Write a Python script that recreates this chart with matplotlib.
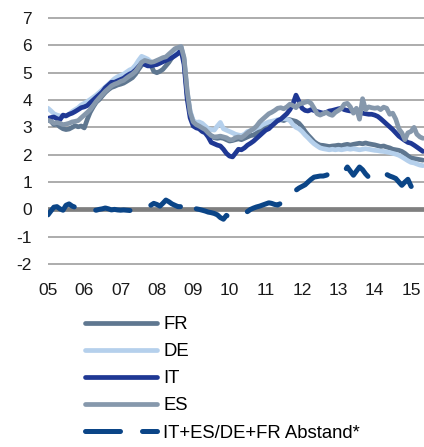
import pandas as pd
import matplotlib.pyplot as plt
import numpy as np

# monthly series, Jan 2005 .. May 2015 (values in %)
start_month = "2005-01-01"

fr = [3.28, 3.22, 3.10, 3.12, 3.02, 2.95, 2.92, 2.94, 3.00, 3.06, 3.02, 3.05,
      2.98, 3.30, 3.55, 3.75, 3.92, 4.02, 4.15, 4.28, 4.38, 4.46, 4.50, 4.55,
      4.58, 4.62, 4.68, 4.75, 4.82, 4.95, 5.12, 5.28, 5.38, 5.45, 5.30, 5.05,
      5.00, 5.05, 5.12, 5.25, 5.38, 5.55, 5.70, 5.82, 5.92, 5.45, 4.20, 3.50,
      3.20, 3.05, 3.00, 2.92, 2.85, 2.78, 2.68, 2.62, 2.60, 2.62, 2.60, 2.55,
      2.50, 2.52, 2.55, 2.58, 2.55, 2.60, 2.65, 2.70, 2.72, 2.80, 2.90, 3.00,
      3.08, 3.15, 3.20, 3.22, 3.25, 3.28, 3.25, 3.30, 3.28, 3.25, 3.22, 3.15,
      3.02, 2.85, 2.72, 2.60, 2.48, 2.40, 2.35, 2.34, 2.32, 2.30, 2.32, 2.33,
      2.35, 2.33, 2.36, 2.38, 2.35, 2.38, 2.40, 2.42, 2.40, 2.43, 2.40, 2.38,
      2.36, 2.33, 2.30, 2.32, 2.28, 2.25, 2.20, 2.18, 2.16, 2.12, 2.05, 1.96,
      1.88, 1.86, 1.84, 1.82, 1.80]

de = [3.70, 3.60, 3.50, 3.45, 3.42, 3.40, 3.42, 3.48, 3.58, 3.65, 3.72, 3.82,
      3.88, 3.95, 4.02, 4.10, 4.18, 4.28, 4.38, 4.48, 4.58, 4.68, 4.78, 4.85,
      4.90, 4.95, 5.02, 5.10, 5.15, 5.28, 5.45, 5.60, 5.55, 5.50, 5.40, 5.35,
      5.38, 5.40, 5.45, 5.50, 5.58, 5.65, 5.78, 5.88, 5.95, 5.50, 4.30, 3.60,
      3.25, 3.18, 3.20, 3.15, 3.05, 2.95, 2.92, 2.90, 3.05, 3.18, 2.95, 2.90,
      2.85, 2.80, 2.75, 2.72, 2.70, 2.75, 2.85, 2.88, 2.92, 2.98, 3.02, 3.10,
      3.15, 3.20, 3.22, 3.25, 3.28, 3.30, 3.32, 3.30, 3.25, 3.10, 3.00, 2.95,
      2.85, 2.72, 2.62, 2.50, 2.40, 2.32, 2.25, 2.22, 2.20, 2.18, 2.20, 2.18,
      2.20, 2.18, 2.20, 2.22, 2.20, 2.22, 2.20, 2.18, 2.20, 2.22, 2.20, 2.18,
      2.16, 2.15, 2.13, 2.12, 2.10, 2.08, 2.05, 2.02, 1.98, 1.92, 1.85, 1.78,
      1.72, 1.70, 1.66, 1.62, 1.60]

it = [3.33, 3.36, 3.38, 3.32, 3.28, 3.45, 3.42, 3.48, 3.52, 3.58, 3.65, 3.72,
      3.75, 3.80, 3.90, 4.00, 4.10, 4.20, 4.30, 4.45, 4.55, 4.65, 4.65, 4.70,
      4.75, 4.80, 4.88, 4.95, 5.00, 5.10, 5.22, 5.35, 5.30, 5.25, 5.25, 5.28,
      5.30, 5.35, 5.40, 5.45, 5.50, 5.55, 5.62, 5.70, 5.82, 5.30, 4.05, 3.35,
      3.05, 2.98, 2.95, 2.85, 2.80, 2.65, 2.45, 2.40, 2.35, 2.32, 2.20, 2.05,
      1.95, 1.92, 2.05, 2.20, 2.18, 2.25, 2.35, 2.42, 2.50, 2.60, 2.70, 2.80,
      2.90, 2.95, 3.05, 3.15, 3.25, 3.30, 3.40, 3.50, 3.65, 3.85, 4.18, 3.95,
      3.70, 3.62, 3.60, 3.65, 3.62, 3.58, 3.55, 3.52, 3.55, 3.60, 3.62, 3.65,
      3.68, 3.70, 3.65, 3.62, 3.60, 3.62, 3.58, 3.55, 3.52, 3.50, 3.48, 3.48,
      3.45, 3.40, 3.32, 3.22, 3.12, 3.02, 2.92, 2.80, 2.68, 2.60, 2.52, 2.45,
      2.42, 2.35, 2.28, 2.20, 2.12]

es = [3.26, 3.22, 3.15, 3.18, 3.15, 3.10, 3.12, 3.15, 3.20, 3.22, 3.25, 3.35,
      3.45, 3.55, 3.65, 3.80, 3.95, 4.08, 4.20, 4.32, 4.42, 4.52, 4.58, 4.62,
      4.68, 4.72, 4.80, 4.88, 4.95, 5.05, 5.20, 5.38, 5.45, 5.42, 5.38, 5.40,
      5.45, 5.50, 5.55, 5.58, 5.68, 5.78, 5.88, 5.92, 5.96, 5.55, 4.35, 3.55,
      3.20, 3.10, 3.05, 2.98, 2.92, 2.80, 2.70, 2.65, 2.66, 2.68, 2.65, 2.62,
      2.55, 2.55, 2.62, 2.65, 2.62, 2.70, 2.80, 2.88, 2.95, 3.05, 3.20, 3.30,
      3.40, 3.50, 3.55, 3.62, 3.70, 3.72, 3.68, 3.75, 3.85, 3.80, 3.72, 3.85,
      3.88, 3.92, 3.95, 3.88, 3.70, 3.50, 3.45, 3.50, 3.55, 3.48, 3.44, 3.55,
      3.62, 3.70, 3.85, 3.88, 3.75, 3.52, 3.70, 3.30, 4.05, 3.65, 3.75, 3.72,
      3.70, 3.72, 3.65, 3.74, 3.70, 3.48, 3.52, 3.30, 2.95, 2.80, 2.55, 2.80,
      2.85, 3.00, 2.75, 2.65, 2.60]

spread = [-0.20, -0.05, 0.08, 0.10, 0.02, -0.03, 0.15, 0.20, 0.12, 0.08, 0.05, 0.02,
          0.00, 0.00, 0.02, -0.02, -0.03, 0.00, 0.02, 0.05, 0.02, -0.02, 0.00, -0.02,
          -0.03, -0.02, -0.03, -0.04, -0.05, -0.05, -0.04, 0.00, 0.05, 0.08, 0.15, 0.22,
          0.18, 0.12, 0.22, 0.34, 0.28, 0.20, 0.15, 0.10, 0.10, 0.30, 0.15, 0.08,
          0.03, 0.02, 0.00, -0.03, -0.06, -0.10, -0.12, -0.15, -0.20, -0.30, -0.36, -0.22,
          -0.28, -0.30, -0.28, -0.25, -0.20, -0.15, -0.08, 0.00, 0.05, 0.09, 0.12, 0.16,
          0.20, 0.24, 0.22, 0.18, 0.16, 0.22, 0.32, 0.42, 0.52, 0.64, 0.70, 0.78,
          0.84, 0.90, 1.00, 1.10, 1.18, 1.20, 1.22, 1.22, 1.25, 1.30, 1.35, 1.37,
          1.35, 1.32, 1.38, 1.55, 1.40, 1.25, 1.40, 1.55, 1.45, 1.30, 1.18, 1.30,
          1.37, 1.35, 1.32, 1.32, 1.28, 1.22, 1.18, 1.13, 1.00, 0.88, 1.00, 1.10,
          0.85, 0.70, 0.62, 0.55, 0.48]

labels = ["FR", "DE", "IT", "ES", "IT+ES/DE+FR Abstand*"]
year_labels = ["05", "06", "07", "08", "09", "10", "11", "12", "13", "14", "15"]
y_ticks = [-2, -1, 0, 1, 2, 3, 4, 5, 6, 7]

# Farben
C_FR = '#5f7790'
C_DE = '#b5d0ec'
C_IT = '#1f3894'
C_ES = '#8698ac'
C_SPREAD = '#0b4587'
C_GRID = '#a6a6a6'
C_ZERO = '#7f7f7f'
C_TEXT = '#1a1a1a'

plt.rcParams['font.family'] = ['Liberation Sans', 'DejaVu Sans']

dates = pd.date_range(start_month, periods=len(fr), freq="MS")

fig = plt.figure(figsize=(4.24, 4.47), dpi=100)
ax = fig.add_axes([48 / 424, 1 - 265.4 / 447, 376 / 424, 248.7 / 447])

lw = 3.4
ax.plot(dates, fr, color=C_FR, lw=lw, solid_capstyle='round', solid_joinstyle='round', label=labels[0], zorder=3)
ax.plot(dates, de, color=C_DE, lw=lw, solid_capstyle='round', solid_joinstyle='round', label=labels[1], zorder=3)
ax.plot(dates, it, color=C_IT, lw=lw, solid_capstyle='round', solid_joinstyle='round', label=labels[2], zorder=3)
ax.plot(dates, es, color=C_ES, lw=lw, solid_capstyle='round', solid_joinstyle='round', label=labels[3], zorder=3)
ax.plot(dates, spread, color=C_SPREAD, lw=3.6, dashes=(7, 4.4), dash_capstyle='round',
        dash_joinstyle='round', label=labels[4], zorder=4)

# Achsen
ax.set_ylim(-2.05, 7.05)
ax.set_xlim(pd.Timestamp("2005-01-01"), pd.Timestamp("2015-05-12"))
ax.set_yticks(y_ticks)
ax.set_yticklabels([str(v) for v in y_ticks], fontsize=12.5, color=C_TEXT, rotation=0)
ax.set_xticks(pd.date_range("2005-01-01", periods=len(year_labels), freq="YS"))
ax.set_xticklabels(year_labels, fontsize=12.5, color=C_TEXT, rotation=0)
ax.tick_params(axis='both', length=0)
ax.tick_params(axis='y', pad=11.5)
ax.tick_params(axis='x', pad=13)

for s in ax.spines.values():
    s.set_visible(False)

ax.yaxis.grid(True, color=C_GRID, lw=1.3, zorder=1)
ax.xaxis.grid(False)
ax.axhline(0, color=C_ZERO, lw=3.4, zorder=2)

fig.legend(loc='upper left', bbox_to_anchor=(85 / 424, 1 - 316 / 447), frameon=False,
           fontsize=13.3, handlelength=3.9, handletextpad=0.33, labelspacing=0.55,
           borderpad=0, borderaxespad=0)

plt.savefig("out.png", dpi=100, facecolor='white')
